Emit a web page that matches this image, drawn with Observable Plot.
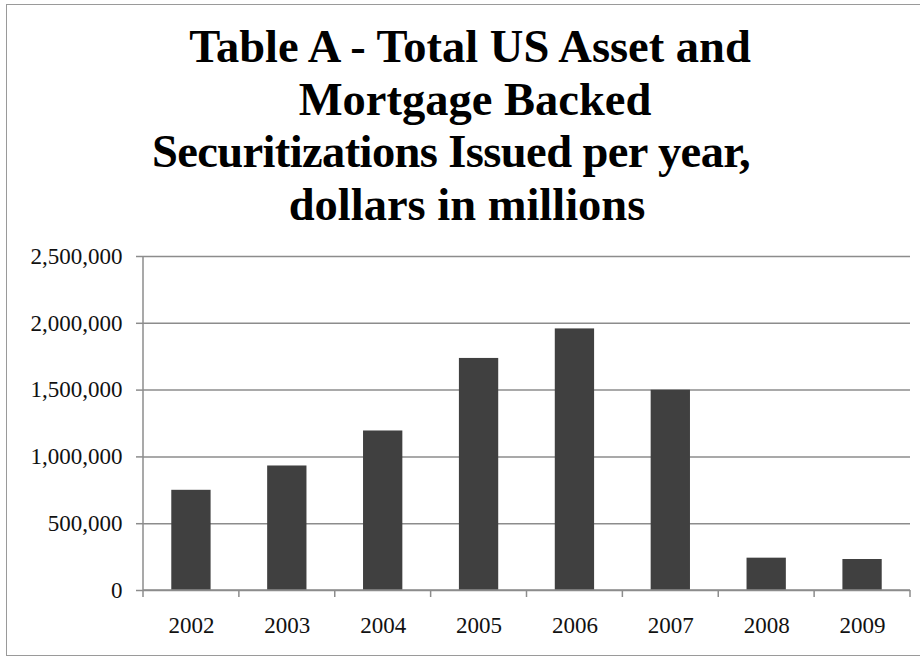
<!DOCTYPE html>
<html>
<head>
<meta charset="utf-8">
<script src="https://cdn.jsdelivr.net/npm/d3@7"></script>
<script src="https://cdn.jsdelivr.net/npm/@observablehq/plot@0.6"></script>
<style>
  html, body { margin: 0; padding: 0; background: #fff; }
  #page { position: relative; width: 920px; height: 658px; overflow: hidden; background: #fff; }
  #border { position: absolute; left: 6px; top: 4px; width: 940px; height: 652px;
            border: 1.5px solid #9a9a9a; box-sizing: border-box; }
  #title { position: absolute; left: 0; top: 21px; width: 924px;
           font-family: "Liberation Serif", "Times New Roman", serif; font-weight: bold;
           font-size: 46.5px; line-height: 52.5px; color: #000; text-align: center; }
  #title div { white-space: nowrap; position: relative; }
  #chart { position: absolute; left: 0; top: 236px; }
</style>
</head>
<body>
<div id="page">
  <div id="border"></div>
  <div id="title">
    <div style="left:8px">Table A - Total US Asset and</div>
    <div style="left:13px">Mortgage Backed</div>
    <div style="left:-11px;letter-spacing:-0.6px">Securitizations Issued per year,</div>
    <div style="left:5px">dollars in millions</div>
  </div>
  <div id="chart"></div>
</div>
<script>
const years = ["2002", "2003", "2004", "2005", "2006", "2007", "2008", "2009"];
const issued = [750000, 932000, 1194000, 1737000, 1958000, 1499000, 242000, 232000];
const yTicks = [0, 500000, 1000000, 1500000, 2000000, 2500000];

const data = years.map((year, i) => ({year, value: issued[i]}));

const axisColor = "#8c8c8c";

// Category-boundary ticks and axis lines, drawn from the plot's own scales
function categoryAxisLines(index, scales) {
  const x = scales.x, y = scales.y;
  const step = x.step();
  const inner = x.paddingInner ? x.paddingInner() : 0;
  const offset = (step * inner) / 2;
  const y0 = y(0), yTop = y(d3.max(yTicks));
  const g = d3.create("svg:g").attr("stroke", axisColor).attr("stroke-width", 1.5).attr("fill", "none");
  const bounds = years.map((yr) => x(yr) - offset);
  bounds.push(x(years[years.length - 1]) + x.bandwidth() + offset);
  g.append("line").attr("x1", bounds[0]).attr("x2", bounds[bounds.length - 1])
    .attr("y1", y0).attr("y2", y0);
  g.append("line").attr("x1", bounds[0]).attr("x2", bounds[0])
    .attr("y1", yTop).attr("y2", y0);
  for (const b of bounds) {
    g.append("line").attr("x1", b).attr("x2", b).attr("y1", y0).attr("y2", y0 + 7);
  }
  return g.node();
}

const chart = Plot.plot({
  width: 920,
  height: 422,
  marginTop: 20,
  marginBottom: 68,
  marginLeft: 143,
  marginRight: 10,
  style: {fontFamily: "'Liberation Serif', 'Times New Roman', serif", fontSize: "23px", color: "#111", background: "transparent"},
  x: {domain: years, paddingInner: 0.59, paddingOuter: 0.295, round: false, label: null},
  y: {domain: [0, 2500000], label: null},
  marks: [
    Plot.gridY(yTicks, {stroke: axisColor, strokeOpacity: 1, strokeWidth: 1.5}),
    Plot.axisY(yTicks, {tickSize: 7, tickPadding: 14, tickFormat: d3.format(","), stroke: axisColor, strokeWidth: 1.5, strokeOpacity: 1, fontSize: 23, label: null}),
    Plot.barY(data, {x: "year", y: "value", fill: "#404040"}),
    categoryAxisLines,
    Plot.axisX({tickSize: 0, tickPadding: 26, fontSize: 23, label: null})
  ]
});
document.getElementById("chart").appendChild(chart);
</script>
</body>
</html>
